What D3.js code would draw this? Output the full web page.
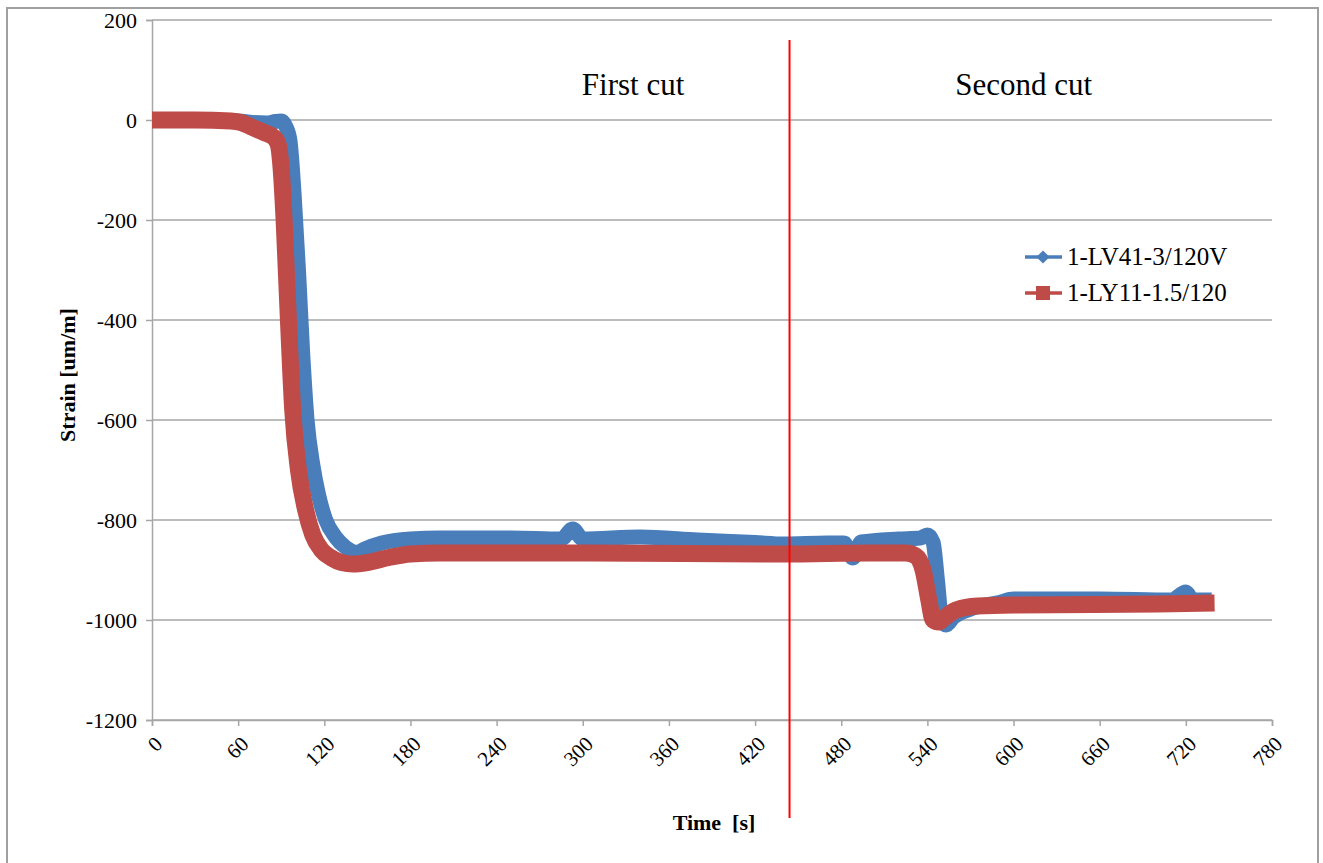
<!DOCTYPE html>
<html>
<head>
<meta charset="utf-8">
<script src="https://cdn.jsdelivr.net/npm/d3@7"></script>
<style>
html,body{margin:0;padding:0;background:#fff;}
svg{display:block;}
text{font-family:"Liberation Serif","Times New Roman",serif;fill:#000;white-space:pre;}
</style>
</head>
<body>
<svg id="chart" width="1323" height="863"></svg>
<script>
const xTicks = [0,60,120,180,240,300,360,420,480,540,600,660,720,780];
const yTicks = [200,0,-200,-400,-600,-800,-1000,-1200];
const seriesNames = ["1-LV41-3/120V","1-LY11-1.5/120"];
const seriesColors = ["#4a7ebb","#be4b48"];
const cutTime = 444;
const cutLabels = ["First cut","Second cut"];
const cutLabelTimes = [335,607];

const blueData = [
 [0,0],[30,0],[60,-2],[70,-5],[80,-6],[86,-3],[90,-2],[93,-12],[96,-40],[99,-150],
 [102,-300],[105,-470],[108,-600],[112,-690],[116,-750],[121,-800],[128,-835],[135,-855],
 [143,-865],[148,-858],[160,-846],[180,-838],[200,-836],[250,-836],[285,-838],[293,-818],
 [300,-838],[340,-834],[380,-840],[420,-845],[440,-848],[470,-846],[482,-846],[488,-876],
 [494,-844],[520,-838],[535,-836],[540,-830],[544,-845],[547,-920],[550,-1000],[553,-1010],
 [558,-995],[570,-978],[590,-965],[600,-958],[660,-958],[710,-960],[720,-944],[725,-960],[738,-960]
];
const redData = [
 [0,0],[30,0],[55,-2],[62,-5],[70,-15],[78,-25],[85,-35],[88,-50],[90,-100],[92,-200],
 [95,-400],[98,-580],[102,-700],[107,-780],[112,-830],[118,-860],[125,-876],[132,-885],[140,-888],
 [150,-885],[165,-875],[180,-868],[200,-866],[300,-866],[440,-868],[500,-866],[525,-866],
 [532,-872],[537,-900],[541,-960],[544,-1000],[548,-1004],[552,-995],[560,-980],[575,-972],
 [600,-970],[700,-968],[740,-966]
];

const svg = d3.select("#chart");
const x = d3.scaleLinear().domain([0,780]).range([152,1272]);
const y = d3.scaleLinear().domain([-1200,200]).range([720,20]);
const FONT = "'Liberation Serif','Times New Roman',serif";

// outer frame
svg.append("rect").attr("x",7).attr("y",8).attr("width",1311).attr("height",866)
  .attr("fill","none").attr("stroke","#a0a0a0").attr("stroke-width",2);

// gridlines
svg.append("g").selectAll("line").data(yTicks).join("line")
  .attr("x1",152).attr("x2",1272).attr("y1",d=>y(d)).attr("y2",d=>y(d))
  .attr("stroke","#a6a6a6").attr("stroke-width",1.5);

// y axis
const yAxis = svg.append("g").attr("transform","translate(152,0)")
  .call(d3.axisLeft(y).tickValues(yTicks).tickSize(6).tickPadding(9).tickFormat(d=>String(d)));
yAxis.attr("font-family",FONT).attr("font-size",22);
yAxis.select(".domain").attr("stroke","#a6a6a6").attr("stroke-width",1.5);
yAxis.selectAll(".tick line").attr("stroke","#a6a6a6").attr("stroke-width",1.5);
yAxis.selectAll("text").style("font-family",FONT).style("font-size","22px").attr("fill","#000");

// x axis
const xAxis = svg.append("g").attr("transform","translate(0,720)")
  .call(d3.axisBottom(x).tickValues(xTicks).tickSize(6).tickFormat(d=>String(d)));
xAxis.attr("font-family",FONT).attr("font-size",21);
xAxis.select(".domain").attr("stroke","#a6a6a6").attr("stroke-width",1.5);
xAxis.selectAll(".tick line").attr("stroke","#a6a6a6").attr("stroke-width",1.5);
xAxis.selectAll("text").style("font-family",FONT).style("font-size","21px").attr("fill","#000")
  .attr("text-anchor","end").attr("dy","0.35em")
  .attr("transform","translate(6,20) rotate(-45)").attr("x",0).attr("y",0);

// series
const line = d3.line().x(d=>x(d[0])).y(d=>y(d[1])).curve(d3.curveMonotoneX);
svg.append("path").datum(blueData).attr("d",line).attr("fill","none")
  .attr("stroke",seriesColors[0]).attr("stroke-width",15).attr("stroke-linejoin","round").attr("stroke-linecap","butt");
svg.append("path").datum(redData).attr("d",line).attr("fill","none")
  .attr("stroke",seriesColors[1]).attr("stroke-width",17).attr("stroke-linejoin","round").attr("stroke-linecap","butt");

// cut line
svg.append("line").attr("x1",x(cutTime)).attr("x2",x(cutTime)).attr("y1",40).attr("y2",818)
  .attr("stroke","#ff0000").attr("stroke-width",2);

// cut labels
svg.append("g").selectAll("text").data(cutLabels).join("text")
  .attr("x",(d,i)=>x(cutLabelTimes[i])).attr("y",95).attr("text-anchor","middle")
  .style("font-size","31px").text(d=>d);

// axis titles
svg.append("text").attr("x",714).attr("y",830).attr("text-anchor","middle")
  .style("font-size","22px").attr("font-weight","bold").text("Time  [s]");
svg.append("text").attr("transform","translate(75,375) rotate(-90)").attr("text-anchor","middle")
  .style("font-size","22px").attr("font-weight","bold").text("Strain [um/m]");

// legend
const lg = svg.append("g");
const legY = [257,293];
seriesNames.forEach((n,i)=>{
  const g = lg.append("g").attr("transform",`translate(0,${legY[i]})`);
  g.append("line").attr("x1",1025).attr("x2",1062).attr("y1",0).attr("y2",0)
    .attr("stroke",seriesColors[i]).attr("stroke-width",3.5);
  if(i===0){
    g.append("path").attr("d",d3.symbol(d3.symbolDiamond2,110)()).attr("transform","translate(1043,0)").attr("fill",seriesColors[i]);
  } else {
    g.append("rect").attr("x",1036).attr("y",-7).attr("width",14).attr("height",14).attr("fill",seriesColors[i]);
  }
  g.append("text").attr("x",1067).attr("y",8).style("font-size","25px").text(n);
});
</script>
</body>
</html>
